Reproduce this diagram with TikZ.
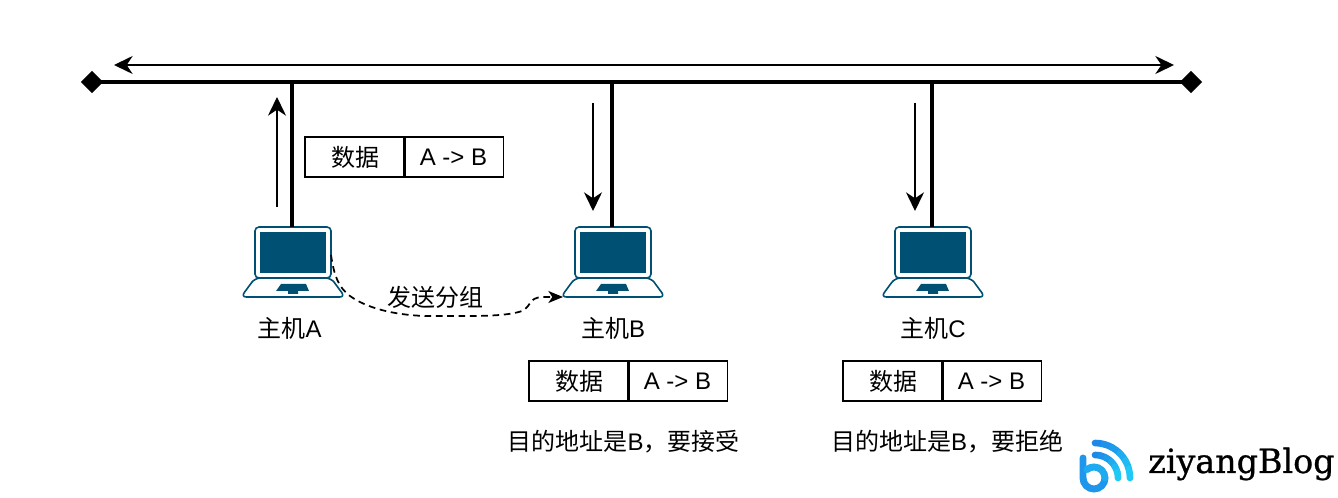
\documentclass[tikz,border=0pt]{standalone}
\usepackage{fontspec}
\setmainfont{Liberation Sans}
\newfontfamily\cjk{Noto Sans CJK SC}
\newfontfamily\logofont[FakeBold=0.8]{DejaVu Serif}
\usetikzlibrary{arrows.meta,shapes.geometric}
\definecolor{lapblue}{HTML}{005073}
\newcommand{\zh}[1]{{\cjk #1}}
\tikzset{
  x=0.75pt,y=-0.75pt,
  lbl/.style={inner sep=0pt,font=\fontsize{18pt}{20pt}\selectfont,text=black},
  cellA/.style={draw=black,line width=1.1pt,minimum width=75pt,minimum height=30pt,inner sep=0pt,font=\fontsize{18pt}{20pt}\selectfont},
  cellB/.style={cellA},
  busline/.style={line width=3.6pt,draw=black},
  stub/.style={line width=3.2pt,draw=black},
  flow/.style={line width=1.2pt,-{Stealth[length=14pt,width=13.5pt,inset=4.5pt]}},
  span/.style={line width=1.2pt,{Stealth[length=14pt,width=13.5pt,inset=4.5pt]}-{Stealth[length=14pt,width=13.5pt,inset=4.5pt]}},
  sendline/.style={line width=1.3pt,dash pattern=on 5pt off 3.5pt,-{Stealth[length=11pt,width=9pt,inset=3pt]}},
  endmark/.style={diamond,fill=black,inner sep=0pt,minimum size=17pt},
  laptop/.pic={
    \draw[lapblue,line width=1.2pt,fill=white,rounded corners=3pt] (-37,0) rectangle (39,51);
    \fill[lapblue] (-32,5) rectangle (34,46);
    \draw[lapblue,line width=1.2pt,fill=white,rounded corners=4pt] (-37,51) -- (39,51) -- (53,70) -- (-51,70) -- cycle;
    \fill[lapblue] (-11,57) -- (14,57) -- (17,64) -- (6,64) -- (6,67) -- (-4,67) -- (-4,64) -- (-16,64) -- cycle;
    \coordinate (-top) at (0,0);
  },
}
\begin{document}
\begin{tikzpicture}
\useasboundingbox (0,0) rectangle (1338,498);
\fill[white] (0,0) rectangle (1338,498);
% bus
\node[endmark] (busL) at (92,82) {};
\node[endmark] (busR) at (1191,82) {};
\draw[busline] (busL.center) -- (busR.center);
\coordinate (spanL) at (114,65);
\coordinate (spanR) at (1174,65);
\draw[span] (spanL) -- (spanR);
% laptops
\pic (A) at (292,227) {laptop};
\pic (B) at (612,227) {laptop};
\pic (C) at (932,227) {laptop};
\coordinate (tapA) at (292,82);
\coordinate (tapB) at (612,82);
\coordinate (tapC) at (932,82);
\draw[stub] (tapA) -- (A-top);
\draw[stub] (tapB) -- (B-top);
\draw[stub] (tapC) -- (C-top);
% flow arrows
\coordinate (fa1) at (277,207); \coordinate (fa2) at (277,97);
\coordinate (fb1) at (593,103); \coordinate (fb2) at (593,211);
\coordinate (fc1) at (915,103); \coordinate (fc2) at (915,211);
\draw[flow] (fa1) -- (fa2);
\draw[flow] (fb1) -- (fb2);
\draw[flow] (fc1) -- (fc2);
% tables
\node[cellA] (ta) at (355,157) {\zh{数据}};
\node[cellB,xshift=-0.4pt] (tb) at (454,157) {A -> B};
\node[cellA] (ba) at (579,381) {\zh{数据}};
\node[cellB,xshift=-0.4pt] (bb) at (678,381) {A -> B};
\node[cellA] (ca) at (893,381) {\zh{数据}};
\node[cellB,xshift=-0.4pt] (cb) at (992,381) {A -> B};
% labels
\node[lbl] (la) at (289.5,328) {\zh{主机}A};
\node[lbl] (lb) at (613,328) {\zh{主机}B};
\node[lbl] (lc) at (933,328) {\zh{主机}C};
\node[lbl] (send) at (435,297) {\zh{发送分组}};
\node[lbl] (noteb) at (623.5,442) {\zh{目的地址是}B\zh{，要接受}};
\node[lbl] (notec) at (947,442) {\zh{目的地址是}B\zh{，要拒绝}};
% send path
\coordinate (sendStart) at (331,255);
\coordinate (sendEnd) at (563,297);
\draw[sendline] (sendStart) .. controls (334,275) and (338,287) .. (350,296)
  .. controls (372,312) and (410,317) .. (440,316)
  .. controls (470,316) and (505,317) .. (522,311)
  .. controls (532,306) and (528,298) .. (542,297) -- (sendEnd);
% logo
\foreach \a/\m in {90/0,75/10,60/20,45/35,30/50,15/65}{
  \pgfmathsetmacro\e{\a-15}
  \definecolor{seg}{RGB}{30,\the\numexpr 136+\m\relax,\the\numexpr 232+\m/5\relax}
  \draw[seg,line width=5pt,line cap=round] ({1095+35*cos(\a)},{478-35*sin(\a)}) arc[start angle=-\a,end angle=-\e,radius=35];
  \draw[seg,line width=5pt,line cap=round] ({1095+23*cos(\a)},{478-23*sin(\a)}) arc[start angle=-\a,end angle=-\e,radius=23];
}
\definecolor{logoa}{RGB}{30,150,235}
\definecolor{logob}{RGB}{30,170,240}
\draw[logoa,line width=5.2pt,line cap=round] (1083,458) -- (1083,478) arc[start angle=180,end angle=0,radius=11];
\draw[logob,line width=5.2pt,line cap=round] (1105,478) arc[start angle=0,end angle=-130,radius=11];
\node[inner sep=0pt,anchor=west,font=\logofont\fontsize{25pt}{28pt}\selectfont,text=black] (logo) at (1148,464) {ziyangBlog};
\end{tikzpicture}
\end{document}
